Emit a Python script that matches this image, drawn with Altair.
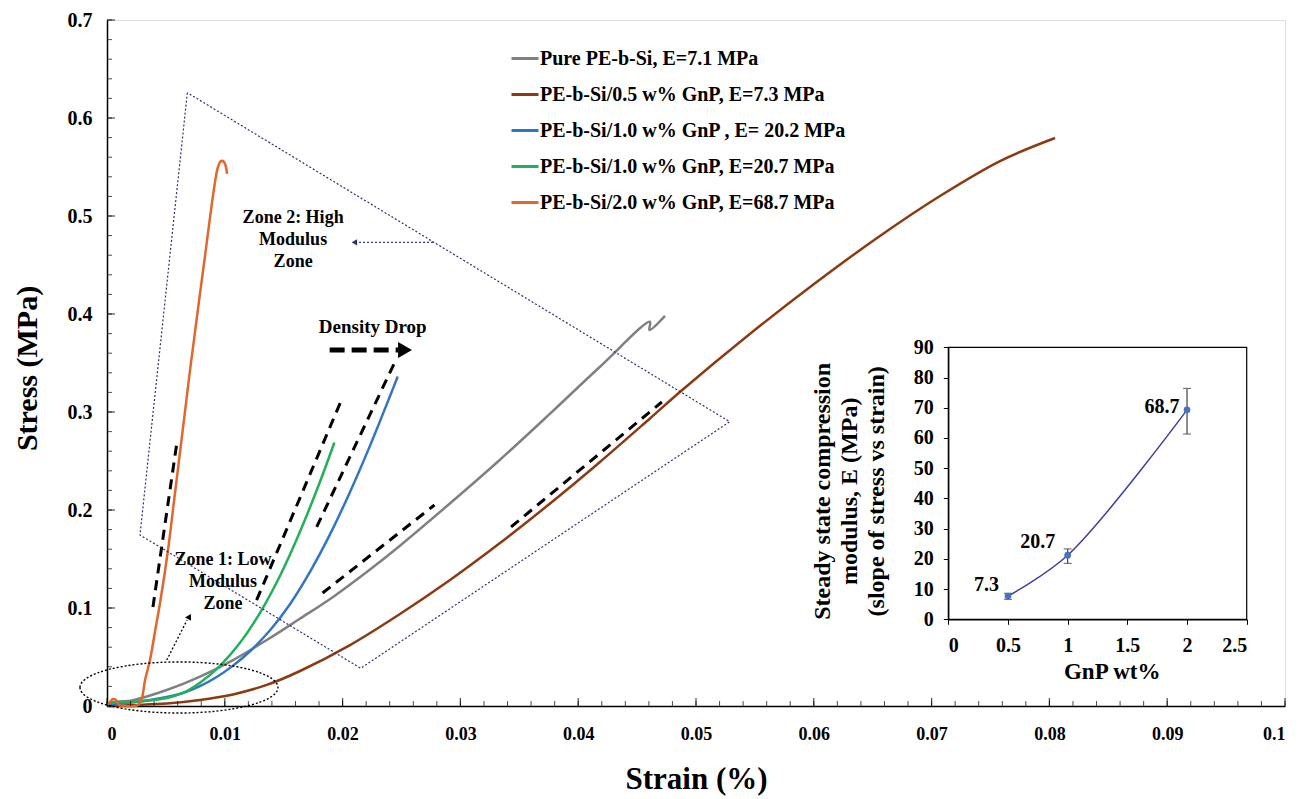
import altair as alt
import pandas as pd

FONT = "Liberation Serif"

# ---------------- main chart data ----------------
series_names = [
    "Pure PE-b-Si, E=7.1 MPa",
    "PE-b-Si/0.5 w% GnP, E=7.3 MPa",
    "PE-b-Si/1.0 w% GnP , E= 20.2 MPa",
    "PE-b-Si/1.0 w% GnP, E=20.7 MPa",
    "PE-b-Si/2.0 w% GnP, E=68.7 MPa",
]
series_colors = ["#808080", "#8B3A12", "#3276C3", "#22B05A", "#E0672E"]

pure_strain = [0, 0.00025, 0.0022, 0.00507, 0.0079, 0.0107, 0.01356, 0.0163, 0.01919, 0.02205,
               0.02487, 0.02908, 0.03336, 0.03761, 0.04185, 0.04609, 0.04605, 0.04737]
pure_stress = [0, 0.003, 0.006, 0.0163, 0.030, 0.0469, 0.0673, 0.0885, 0.1113, 0.1367,
               0.1636, 0.2064, 0.2513, 0.2983, 0.3462, 0.3921, 0.3837, 0.398]

gnp05_strain = [0, 0.00221, 0.00507, 0.00789, 0.0107, 0.01356, 0.0163, 0.02063, 0.02487,
                0.02912, 0.03336, 0.03761, 0.04185, 0.04609, 0.04873, 0.05467, 0.06002,
                0.06537, 0.07071, 0.07581, 0.08048]
gnp05_stress = [0, 0.001, 0.0025, 0.0062, 0.0118, 0.0215, 0.0352, 0.0622, 0.0939,
                0.1286, 0.1663, 0.2066, 0.2490, 0.2934, 0.3214, 0.3806, 0.4306,
                0.4776, 0.5204, 0.5561, 0.5796]

gnp10a_strain = [0, 0.00085, 0.00365, 0.00645, 0.00789, 0.00931, 0.0107, 0.01214, 0.01384,
                 0.01553, 0.01723, 0.01893, 0.02063, 0.02233, 0.02402, 0.02468]
gnp10a_stress = [0, 0.002, 0.0061, 0.0133, 0.0202, 0.0296, 0.0412, 0.0559, 0.0773,
                 0.1039, 0.1369, 0.1751, 0.2184, 0.2657, 0.3161, 0.3363]

gnp10b_strain = [0, 0.00025, 0.00221, 0.00509, 0.00645, 0.00789, 0.00959, 0.01129, 0.01299,
                 0.01469, 0.01638, 0.01808, 0.0193]
gnp10b_stress = [0, 0.0031, 0.0041, 0.0082, 0.0133, 0.0237, 0.041, 0.0645, 0.0951,
                 0.1329, 0.1778, 0.2288, 0.2689]

gnp20_strain = [0, 0.00025, 0.00051, 0.00076, 0.00102, 0.00153, 0.00238, 0.00272, 0.00297,
                0.00323, 0.00365, 0.00407, 0.00450, 0.00518, 0.00569, 0.00620, 0.00671,
                0.00705, 0.00747, 0.00789, 0.00832, 0.00874, 0.00917, 0.00942,
                0.00968, 0.00993, 0.01010, 0.01019]
gnp20_stress = [0, 0.0041, 0.0071, 0.0061, 0.001, 0, 0, 0.002, 0.0082,
                0.0265, 0.0469, 0.0755, 0.1051, 0.1592, 0.2092, 0.2592, 0.3092,
                0.3429, 0.3816, 0.4204, 0.4592, 0.4980, 0.5347, 0.5500,
                0.5561, 0.5551, 0.5500, 0.5429]

all_strain = [pure_strain, gnp05_strain, gnp10a_strain, gnp10b_strain, gnp20_strain]
all_stress = [pure_stress, gnp05_stress, gnp10a_stress, gnp10b_stress, gnp20_stress]

rows = []
for name, xs, ys in zip(series_names, all_strain, all_stress):
    for i, (a, b) in enumerate(zip(xs, ys)):
        rows.append({"series": name, "strain": a, "stress": b, "idx": i})
curves = pd.DataFrame(rows)

# tick values
x_major = [i / 100 for i in range(11)]
x_minor = [i / 500 for i in range(51)]
y_major = [i / 10 for i in range(8)]
y_minor = [i / 50 for i in range(36)]

# annotation geometry (data units)
tan_x0 = [0.0039, 0.0127, 0.0178, 0.0183, 0.0343]
tan_y0 = [0.101, 0.108, 0.1827, 0.1153, 0.1827]
tan_x1 = [0.0059, 0.0200, 0.0244, 0.0278, 0.0471]
tan_y1 = [0.266, 0.315, 0.350, 0.2051, 0.3102]

poly_x = [0.00682, 0.0028, 0.02154, 0.05286, 0.00682]
poly_y = [0.6258, 0.1745, 0.0385, 0.2901, 0.6258]

# ---------------- inset data ----------------
gnp_wt = [0.5, 1.0, 2.0]
modulus = [7.7, 21.2, 69.3]
err_low = [6.6, 18.5, 61.3]
err_high = [8.6, 23.3, 76.4]
label_text = ["7.3", "20.7", "68.7"]
label_gnp = [0.32, 0.75, 1.79]
label_mod = [11.4, 25.5, 70.2]

W, H = 1178, 686

# ---------------- main layers ----------------
xs_main = alt.Scale(domain=[0, 0.1], nice=False, zero=False)
ys_main = alt.Scale(domain=[0, 0.7], nice=False, zero=False)

x_axis_main = alt.Axis(values=x_major, format="~g", ticks=False, grid=False,
                       domainColor="black", domainWidth=1.5,
                       labelFont=FONT, labelFontSize=18, labelFontWeight="bold",
                       labelColor="black", labelPadding=19,
                       title="Strain (%)", titleFont=FONT, titleFontSize=31,
                       titleFontWeight="bold", titleColor="black",
                       titleX=589, titleY=73, titleBaseline="middle")
y_axis_main = alt.Axis(values=y_major, format="~g", ticks=False, grid=False,
                       domainColor="black", domainWidth=1.5,
                       labelFont=FONT, labelFontSize=20, labelFontWeight="bold",
                       labelColor="black", labelPadding=15,
                       title="Stress (MPa)", titleFont=FONT, titleFontSize=30,
                       titleFontWeight="bold", titleColor="black",
                       titleX=-80, titleY=348, titleBaseline="middle", titleAlign="center")

legend = alt.Legend(orient="none", legendX=403, legendY=23.5, title=None,
                    symbolType="stroke", symbolStrokeWidth=3, symbolSize=729,
                    labelFont=FONT, labelFontSize=20, labelFontWeight="bold",
                    labelColor="black", rowPadding=11, labelOffset=0,
                    labelLimit=600, padding=0)

curves_layer = alt.Chart(curves).mark_line(strokeWidth=2.5, interpolate="catmull-rom").encode(
    x=alt.X("strain:Q", scale=xs_main, axis=x_axis_main),
    y=alt.Y("stress:Q", scale=ys_main, axis=y_axis_main),
    color=alt.Color("series:N", scale=alt.Scale(domain=series_names, range=series_colors),
                    legend=legend),
    order=alt.Order("idx:Q"),
)

xt_major = alt.Chart(pd.DataFrame({"strain": x_major})).mark_tick(
    orient="vertical", size=8, thickness=1.2, yOffset=-4, color="black").encode(
    x="strain:Q", y=alt.datum(0))
xt_minor = alt.Chart(pd.DataFrame({"strain": x_minor})).mark_tick(
    orient="vertical", size=5, thickness=1, yOffset=-2.5, color="black").encode(
    x="strain:Q", y=alt.datum(0))
yt_major = alt.Chart(pd.DataFrame({"stress": y_major})).mark_tick(
    orient="horizontal", size=8, thickness=1.2, xOffset=4, color="black").encode(
    y="stress:Q", x=alt.datum(0))
yt_minor = alt.Chart(pd.DataFrame({"stress": y_minor})).mark_tick(
    orient="horizontal", size=5, thickness=1, xOffset=2.5, color="black").encode(
    y="stress:Q", x=alt.datum(0))

tangents = alt.Chart(pd.DataFrame({"strain": tan_x0, "stress": tan_y0,
                                   "x1": tan_x1, "y1": tan_y1})).mark_rule(
    color="black", strokeWidth=3, strokeDash=[10, 7]).encode(
    x="strain:Q", y="stress:Q", x2="x1:Q", y2="y1:Q")

poly = alt.Chart(pd.DataFrame({"strain": poly_x, "stress": poly_y,
                               "idx": list(range(len(poly_x)))})).mark_line(
    color="#2E2E78", strokeWidth=1.2, strokeDash=[2, 2]).encode(
    x="strain:Q", y="stress:Q", order="idx:Q")

density_arrow = alt.Chart(pd.DataFrame({"a": [0]})).mark_rule(
    color="black", strokeWidth=5, strokeDash=[15, 7]).encode(
    x=alt.datum(0.0189), x2=alt.datum(0.0247), y=alt.datum(0.3633))
density_head = alt.Chart(pd.DataFrame({"a": [0]})).mark_point(
    shape="triangle-right", size=260, filled=True, color="black", opacity=1).encode(
    x=alt.datum(0.0253), y=alt.datum(0.3633))
density_text = alt.Chart(pd.DataFrame({"a": [0]})).mark_text(
    text="Density Drop", font=FONT, fontSize=19, fontWeight="bold", color="black",
    baseline="middle", align="center").encode(
    x=alt.datum(0.02256), y=alt.datum(0.387))

zone2_arrow = alt.Chart(pd.DataFrame({"a": [0]})).mark_rule(
    color="#2E2E78", strokeWidth=1.3, strokeDash=[2, 2]).encode(
    x=alt.datum(0.02768), x2=alt.datum(0.0211), y=alt.datum(0.4731))
zone2_head = alt.Chart(pd.DataFrame({"a": [0]})).mark_point(
    shape="triangle-left", size=40, filled=True, color="#2E2E78", opacity=1).encode(
    x=alt.datum(0.0210), y=alt.datum(0.4731))
zone2_text = alt.Chart(pd.DataFrame({"a": [0]})).mark_text(
    text=["Zone 2: High", "Modulus", "Zone"], font=FONT, fontSize=18, fontWeight="bold",
    color="black", baseline="middle", align="center", lineHeight=22).encode(
    x=alt.datum(0.0158), y=alt.datum(0.498))

zone1_text = alt.Chart(pd.DataFrame({"a": [0]})).mark_text(
    text=["Zone 1: Low", "Modulus", "Zone"], font=FONT, fontSize=18, fontWeight="bold",
    color="black", baseline="middle", align="center", lineHeight=22).encode(
    x=alt.datum(0.00985), y=alt.datum(0.149))
zone1_arrow = alt.Chart(pd.DataFrame({"a": [0]})).mark_rule(
    color="black", strokeWidth=1.3, strokeDash=[2, 2]).encode(
    x=alt.datum(0.00507), y=alt.datum(0.0469), x2=alt.datum(0.0068), y2=alt.datum(0.0878))
zone1_head = alt.Chart(pd.DataFrame({"a": [0]})).mark_point(
    shape="triangle-up", angle=28, size=45, filled=True, color="black", opacity=1).encode(
    x=alt.datum(0.0070), y=alt.datum(0.0913))

ellipse = alt.Chart(pd.DataFrame({"a": [0]})).mark_point(
    shape="M-1,0A1,0.258,0,1,1,1,0A1,0.258,0,1,1,-1,0Z", size=39204, filled=False,
    stroke="black", strokeWidth=1.4, strokeDash=[2, 2], opacity=1).encode(
    x=alt.datum(0.00611), y=alt.datum(0.0189))

main = alt.layer(curves_layer, xt_minor, xt_major, yt_minor, yt_major, tangents, poly,
                 density_arrow, density_head, density_text, zone2_arrow, zone2_head,
                 zone2_text, zone1_text, zone1_arrow, zone1_head, ellipse)

# ---------------- inset layers ----------------
inset_df = pd.DataFrame({"gnp": gnp_wt, "mod": modulus, "lo": err_low, "hi": err_high})
ixs = alt.Scale(domain=[0, 2.5], range=[841.3, 1139.7], nice=False, zero=False)
iys = alt.Scale(domain=[0, 90], range=[599.3, 327.3], nice=False, zero=False)

x_axis_in = alt.Axis(orient="bottom", offset=-86.7, values=[0, 0.5, 1, 1.5, 2, 2.5],
                     format="~g", grid=False, ticks=True, tickSize=5, tickColor="black",
                     domainColor="black", domainWidth=1.2,
                     labelFont=FONT, labelFontSize=20, labelFontWeight="bold",
                     labelColor="black", labelPadding=11,
                     title="GnP wt%", titleFont=FONT, titleFontSize=23, titleFontWeight="bold",
                     titleColor="black", titleX=1004.7, titleY=52.4, titleBaseline="middle")
y_axis_in = alt.Axis(orient="left", offset=-841.3, values=[0, 10, 20, 30, 40, 50, 60, 70, 80, 90],
                     format="~g", grid=False, ticks=True, tickSize=5, tickColor="black",
                     domainColor="black", domainWidth=1.2,
                     labelFont=FONT, labelFontSize=20, labelFontWeight="bold",
                     labelColor="black", labelPadding=10,
                     title=["Steady state compression", "modulus, E (MPa)",
                            "(slope of stress vs strain)"],
                     titleFont=FONT, titleFontSize=24, titleFontWeight="bold",
                     titleColor="black", titleLineHeight=27,
                     titleX=-125.5, titleY=470.8, titleBaseline="middle", titleAlign="center")

inset_line = alt.Chart(inset_df).mark_line(
    interpolate="catmull-rom", color="#3F3F9F", strokeWidth=1.5).encode(
    x=alt.X("gnp:Q", scale=ixs, axis=x_axis_in),
    y=alt.Y("mod:Q", scale=iys, axis=y_axis_in))
inset_frame = alt.Chart(pd.DataFrame({"a": [0]})).mark_rect(
    fillOpacity=0, stroke="black", strokeWidth=1.2).encode(
    x=alt.datum(0), x2=alt.datum(2.5), y=alt.datum(0), y2=alt.datum(90))
inset_err = alt.Chart(inset_df).mark_rule(color="#404040", strokeWidth=1.2).encode(
    x="gnp:Q", y="lo:Q", y2="hi:Q")
inset_cap_lo = alt.Chart(inset_df).mark_tick(
    orient="horizontal", size=8, thickness=1.2, color="#404040").encode(x="gnp:Q", y="lo:Q")
inset_cap_hi = alt.Chart(inset_df).mark_tick(
    orient="horizontal", size=8, thickness=1.2, color="#404040").encode(x="gnp:Q", y="hi:Q")
inset_pts = alt.Chart(inset_df).mark_circle(size=45, color="#4472C4", opacity=1).encode(
    x="gnp:Q", y="mod:Q")
inset_labels = alt.Chart(pd.DataFrame({"gnp": label_gnp, "mod": label_mod, "t": label_text})).mark_text(
    font=FONT, fontSize=20, fontWeight="bold", color="black", baseline="middle",
    align="center").encode(x="gnp:Q", y="mod:Q", text="t:N")

inset = alt.layer(inset_line, inset_frame, inset_err, inset_cap_lo, inset_cap_hi,
                  inset_pts, inset_labels)

chart = alt.layer(main, inset).resolve_scale(
    x="independent", y="independent"
).properties(
    width=W, height=H,
    padding={"left": 99, "top": 12, "right": 6, "bottom": 92},
    autosize=alt.AutoSizeParams(type="none"),
    background="white",
).configure_view(
    stroke="#3a3a3a", strokeWidth=1.5
).configure(font=FONT)

chart.save("out.html", embed_options={"renderer": "svg", "actions": False})
